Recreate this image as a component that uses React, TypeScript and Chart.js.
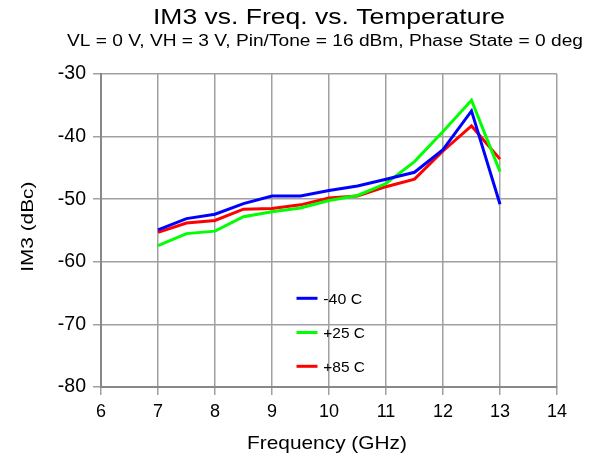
import React, { useEffect, useRef } from "react";
import { Chart, registerables } from "chart.js";

Chart.register(...registerables);

const freqs = [7, 7.5, 8, 8.5, 9, 9.5, 10, 10.5, 11, 11.5, 12, 12.5, 13];
const im3Minus40 = [-54.9, -53.1, -52.4, -50.7, -49.5, -49.5, -48.6, -47.9, -46.8, -45.7, -42.1, -35.9, -50.8];
const im3Plus25 = [-57.4, -55.5, -55.1, -52.8, -52.0, -51.4, -50.2, -49.4, -47.5, -44.0, -39.2, -34.2, -45.6];
const im3Plus85 = [-55.3, -53.8, -53.4, -51.6, -51.5, -50.9, -49.8, -49.5, -48.0, -46.8, -42.3, -38.3, -43.6];
const seriesLabels = ["-40 C", "+25 C", "+85 C"];
const seriesColors = ["#0000ff", "#00ff00", "#ff0000"];
const titleText = "IM3 vs. Freq. vs. Temperature";
const subtitleText = "VL = 0 V, VH = 3 V, Pin/Tone = 16 dBm, Phase State = 0 deg";
const xTitle = "Frequency (GHz)";
const yTitle = "IM3 (dBc)";

const FONT = "'Liberation Sans', Arial, sans-serif";

function drawText(ctx: any, text: string, x: number, y: number, size: number, width: number, align: "center" | "left", rot = 0) {
  ctx.save();
  ctx.font = `${size}px ${FONT}`;
  ctx.textBaseline = "alphabetic";
  ctx.textAlign = align;
  const w = ctx.measureText(text).width;
  ctx.translate(x, y);
  if (rot) ctx.rotate(rot);
  ctx.scale(width / w, 1);
  ctx.fillText(text, 0, 0);
  ctx.restore();
}

const overlayPlugin = {
  id: "overlay",
  afterDraw(chart: any) {
    const ctx = chart.ctx;
    ctx.save();
    ctx.fillStyle = "#000";
    drawText(ctx, titleText, 329, 23.5, 22, 352, "center");
    drawText(ctx, subtitleText, 325, 45.5, 16, 516, "center");
    drawText(ctx, xTitle, 327, 448.5, 19, 160, "center");
    // y title rotated: baseline at x=32.7, centered at y=226.7
    ctx.save();
    ctx.translate(32.5, 226.7);
    ctx.rotate(-Math.PI / 2);
    drawText(ctx, yTitle, 0, 0, 17, 90, "center");
    ctx.restore();
    // legend
    const lineYs = [298.3, 332.5, 366.3];
    const baseYs = [304, 338.3, 372.3];
    const widths = [39, 41.7, 41.7];
    for (let i = 0; i < 3; i++) {
      ctx.strokeStyle = seriesColors[i];
      ctx.lineWidth = 3;
      ctx.beginPath();
      ctx.moveTo(296.5, lineYs[i]);
      ctx.lineTo(317.5, lineYs[i]);
      ctx.stroke();
      drawText(ctx, seriesLabels[i], 323.3, baseYs[i], 15, widths[i], "left");
    }
    ctx.restore();
  },
};

export default function App() {
  const ref = useRef<HTMLCanvasElement>(null);
  useEffect(() => {
    if (!ref.current) return;
    const mk = (vals: number[]) => freqs.map((f, i) => ({ x: f, y: vals[i] }));
    const all = [im3Minus40, im3Plus25, im3Plus85];
    const chart = new Chart(ref.current, {
      type: "line",
      data: {
        datasets: all.map((vals, i) => ({
          label: seriesLabels[i],
          data: mk(vals),
          borderColor: seriesColors[i],
          backgroundColor: seriesColors[i],
          borderWidth: 3,
          pointRadius: 0,
          tension: 0,
        })),
      },
      options: {
        responsive: false,
        animation: false,
        layout: { padding: { left: 0, right: 40, top: 74, bottom: 0 } },
        plugins: { legend: { display: false }, tooltip: { enabled: false } },
        scales: {
          x: {
            type: "linear",
            min: 6,
            max: 14,
            ticks: { stepSize: 1, color: "#000", font: { family: FONT, size: 18 }, padding: 6 },
            grid: { color: "#a0a0a0", lineWidth: 1.5, tickLength: 8, tickColor: "#a0a0a0" },
            border: { color: "#888888", width: 2 },
            afterFit(scale: any) { scale.height = 72; },
          },
          y: {
            min: -80,
            max: -30,
            ticks: { stepSize: 10, color: "#000", font: { family: FONT, size: 19.5 }, padding: 7 },
            grid: { color: "#a0a0a0", lineWidth: 1.5, tickLength: 8, tickColor: "#a0a0a0" },
            border: { color: "#888888", width: 2 },
            afterFit(scale: any) { scale.width = 101; },
          },
        },
      },
      plugins: [overlayPlugin],
    });
    return () => chart.destroy();
  }, []);
  return (
    <div style={{ position: "fixed", left: 0, top: 0, width: 597, height: 459, background: "#fff" }}>
      <canvas ref={ref} width={597} height={459} />
    </div>
  );
}
